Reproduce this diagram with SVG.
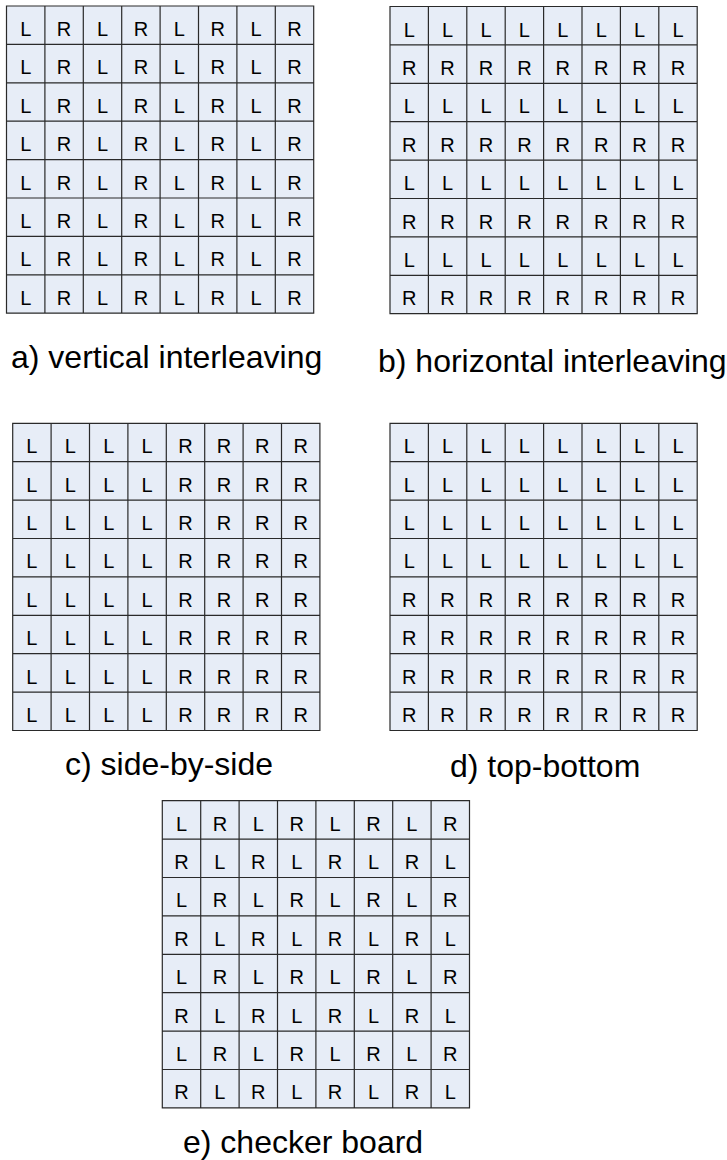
<svg xmlns="http://www.w3.org/2000/svg" width="727" height="1160" viewBox="0 0 727 1160">
<style>
.bg{fill:#E7EDF7}
.gl{fill:none;stroke:#2a2a2a;stroke-width:1.2}
.c{font-family:"Liberation Sans",Arial,sans-serif;font-size:20px;fill:#000;text-anchor:middle}
.cap{font-family:"Liberation Sans",Arial,sans-serif;font-size:32px;fill:#000}
</style>
<defs>
<g id="grid">
<rect class="bg" x="0" y="0" width="307.2" height="307.2"/>
<path class="gl" d="M0 0H307.2V307.2H0Z M38.4 0V307.2 M76.8 0V307.2 M115.2 0V307.2 M153.6 0V307.2 M192 0V307.2 M230.4 0V307.2 M268.8 0V307.2 M0 38.4H307.2 M0 76.8H307.2 M0 115.2H307.2 M0 153.6H307.2 M0 192H307.2 M0 230.4H307.2 M0 268.8H307.2"/>
</g>
</defs>

<g id="grid-a" transform="translate(6.5,6)">
<use href="#grid"/>
<text class="c" x="19.2" y="30">L</text><text class="c" x="57.6" y="30">R</text><text class="c" x="96" y="30">L</text><text class="c" x="134.4" y="30">R</text><text class="c" x="172.8" y="30">L</text><text class="c" x="211.2" y="30">R</text><text class="c" x="249.6" y="30">L</text><text class="c" x="288" y="30">R</text>
<text class="c" x="19.2" y="68.4">L</text><text class="c" x="57.6" y="68.4">R</text><text class="c" x="96" y="68.4">L</text><text class="c" x="134.4" y="68.4">R</text><text class="c" x="172.8" y="68.4">L</text><text class="c" x="211.2" y="68.4">R</text><text class="c" x="249.6" y="68.4">L</text><text class="c" x="288" y="68.4">R</text>
<text class="c" x="19.2" y="106.8">L</text><text class="c" x="57.6" y="106.8">R</text><text class="c" x="96" y="106.8">L</text><text class="c" x="134.4" y="106.8">R</text><text class="c" x="172.8" y="106.8">L</text><text class="c" x="211.2" y="106.8">R</text><text class="c" x="249.6" y="106.8">L</text><text class="c" x="288" y="106.8">R</text>
<text class="c" x="19.2" y="145.2">L</text><text class="c" x="57.6" y="145.2">R</text><text class="c" x="96" y="145.2">L</text><text class="c" x="134.4" y="145.2">R</text><text class="c" x="172.8" y="145.2">L</text><text class="c" x="211.2" y="145.2">R</text><text class="c" x="249.6" y="145.2">L</text><text class="c" x="288" y="145.2">R</text>
<text class="c" x="19.2" y="183.6">L</text><text class="c" x="57.6" y="183.6">R</text><text class="c" x="96" y="183.6">L</text><text class="c" x="134.4" y="183.6">R</text><text class="c" x="172.8" y="183.6">L</text><text class="c" x="211.2" y="183.6">R</text><text class="c" x="249.6" y="183.6">L</text><text class="c" x="288" y="183.6">R</text>
<text class="c" x="19.2" y="222">L</text><text class="c" x="57.6" y="222">R</text><text class="c" x="96" y="222">L</text><text class="c" x="134.4" y="222">R</text><text class="c" x="172.8" y="222">L</text><text class="c" x="211.2" y="222">R</text><text class="c" x="249.6" y="222">L</text><text class="c" x="288" y="220">R</text>
<text class="c" x="19.2" y="260.4">L</text><text class="c" x="57.6" y="260.4">R</text><text class="c" x="96" y="260.4">L</text><text class="c" x="134.4" y="260.4">R</text><text class="c" x="172.8" y="260.4">L</text><text class="c" x="211.2" y="260.4">R</text><text class="c" x="249.6" y="260.4">L</text><text class="c" x="288" y="260.4">R</text>
<text class="c" x="19.2" y="298.8">L</text><text class="c" x="57.6" y="298.8">R</text><text class="c" x="96" y="298.8">L</text><text class="c" x="134.4" y="298.8">R</text><text class="c" x="172.8" y="298.8">L</text><text class="c" x="211.2" y="298.8">R</text><text class="c" x="249.6" y="298.8">L</text><text class="c" x="288" y="298.8">R</text>
</g>

<g id="grid-b" transform="translate(390,6.5)">
<use href="#grid"/>
<text class="c" x="19.2" y="30">L</text><text class="c" x="57.6" y="30">L</text><text class="c" x="96" y="30">L</text><text class="c" x="134.4" y="30">L</text><text class="c" x="172.8" y="30">L</text><text class="c" x="211.2" y="30">L</text><text class="c" x="249.6" y="30">L</text><text class="c" x="288" y="30">L</text>
<text class="c" x="19.2" y="68.4">R</text><text class="c" x="57.6" y="68.4">R</text><text class="c" x="96" y="68.4">R</text><text class="c" x="134.4" y="68.4">R</text><text class="c" x="172.8" y="68.4">R</text><text class="c" x="211.2" y="68.4">R</text><text class="c" x="249.6" y="68.4">R</text><text class="c" x="288" y="68.4">R</text>
<text class="c" x="19.2" y="106.8">L</text><text class="c" x="57.6" y="106.8">L</text><text class="c" x="96" y="106.8">L</text><text class="c" x="134.4" y="106.8">L</text><text class="c" x="172.8" y="106.8">L</text><text class="c" x="211.2" y="106.8">L</text><text class="c" x="249.6" y="106.8">L</text><text class="c" x="288" y="106.8">L</text>
<text class="c" x="19.2" y="145.2">R</text><text class="c" x="57.6" y="145.2">R</text><text class="c" x="96" y="145.2">R</text><text class="c" x="134.4" y="145.2">R</text><text class="c" x="172.8" y="145.2">R</text><text class="c" x="211.2" y="145.2">R</text><text class="c" x="249.6" y="145.2">R</text><text class="c" x="288" y="145.2">R</text>
<text class="c" x="19.2" y="183.6">L</text><text class="c" x="57.6" y="183.6">L</text><text class="c" x="96" y="183.6">L</text><text class="c" x="134.4" y="183.6">L</text><text class="c" x="172.8" y="183.6">L</text><text class="c" x="211.2" y="183.6">L</text><text class="c" x="249.6" y="183.6">L</text><text class="c" x="288" y="183.6">L</text>
<text class="c" x="19.2" y="222">R</text><text class="c" x="57.6" y="222">R</text><text class="c" x="96" y="222">R</text><text class="c" x="134.4" y="222">R</text><text class="c" x="172.8" y="222">R</text><text class="c" x="211.2" y="222">R</text><text class="c" x="249.6" y="222">R</text><text class="c" x="288" y="222">R</text>
<text class="c" x="19.2" y="260.4">L</text><text class="c" x="57.6" y="260.4">L</text><text class="c" x="96" y="260.4">L</text><text class="c" x="134.4" y="260.4">L</text><text class="c" x="172.8" y="260.4">L</text><text class="c" x="211.2" y="260.4">L</text><text class="c" x="249.6" y="260.4">L</text><text class="c" x="288" y="260.4">L</text>
<text class="c" x="19.2" y="298.8">R</text><text class="c" x="57.6" y="298.8">R</text><text class="c" x="96" y="298.8">R</text><text class="c" x="134.4" y="298.8">R</text><text class="c" x="172.8" y="298.8">R</text><text class="c" x="211.2" y="298.8">R</text><text class="c" x="249.6" y="298.8">R</text><text class="c" x="288" y="298.8">R</text>
</g>

<g id="grid-c" transform="translate(12.7,423.3)">
<use href="#grid"/>
<text class="c" x="19.2" y="30">L</text><text class="c" x="57.6" y="30">L</text><text class="c" x="96" y="30">L</text><text class="c" x="134.4" y="30">L</text><text class="c" x="172.8" y="30">R</text><text class="c" x="211.2" y="30">R</text><text class="c" x="249.6" y="30">R</text><text class="c" x="288" y="30">R</text>
<text class="c" x="19.2" y="68.4">L</text><text class="c" x="57.6" y="68.4">L</text><text class="c" x="96" y="68.4">L</text><text class="c" x="134.4" y="68.4">L</text><text class="c" x="172.8" y="68.4">R</text><text class="c" x="211.2" y="68.4">R</text><text class="c" x="249.6" y="68.4">R</text><text class="c" x="288" y="68.4">R</text>
<text class="c" x="19.2" y="106.8">L</text><text class="c" x="57.6" y="106.8">L</text><text class="c" x="96" y="106.8">L</text><text class="c" x="134.4" y="106.8">L</text><text class="c" x="172.8" y="106.8">R</text><text class="c" x="211.2" y="106.8">R</text><text class="c" x="249.6" y="106.8">R</text><text class="c" x="288" y="106.8">R</text>
<text class="c" x="19.2" y="145.2">L</text><text class="c" x="57.6" y="145.2">L</text><text class="c" x="96" y="145.2">L</text><text class="c" x="134.4" y="145.2">L</text><text class="c" x="172.8" y="145.2">R</text><text class="c" x="211.2" y="145.2">R</text><text class="c" x="249.6" y="145.2">R</text><text class="c" x="288" y="145.2">R</text>
<text class="c" x="19.2" y="183.6">L</text><text class="c" x="57.6" y="183.6">L</text><text class="c" x="96" y="183.6">L</text><text class="c" x="134.4" y="183.6">L</text><text class="c" x="172.8" y="183.6">R</text><text class="c" x="211.2" y="183.6">R</text><text class="c" x="249.6" y="183.6">R</text><text class="c" x="288" y="183.6">R</text>
<text class="c" x="19.2" y="222">L</text><text class="c" x="57.6" y="222">L</text><text class="c" x="96" y="222">L</text><text class="c" x="134.4" y="222">L</text><text class="c" x="172.8" y="222">R</text><text class="c" x="211.2" y="222">R</text><text class="c" x="249.6" y="222">R</text><text class="c" x="288" y="222">R</text>
<text class="c" x="19.2" y="260.4">L</text><text class="c" x="57.6" y="260.4">L</text><text class="c" x="96" y="260.4">L</text><text class="c" x="134.4" y="260.4">L</text><text class="c" x="172.8" y="260.4">R</text><text class="c" x="211.2" y="260.4">R</text><text class="c" x="249.6" y="260.4">R</text><text class="c" x="288" y="260.4">R</text>
<text class="c" x="19.2" y="298.8">L</text><text class="c" x="57.6" y="298.8">L</text><text class="c" x="96" y="298.8">L</text><text class="c" x="134.4" y="298.8">L</text><text class="c" x="172.8" y="298.8">R</text><text class="c" x="211.2" y="298.8">R</text><text class="c" x="249.6" y="298.8">R</text><text class="c" x="288" y="298.8">R</text>
</g>

<g id="grid-d" transform="translate(390,423.3)">
<use href="#grid"/>
<text class="c" x="19.2" y="30">L</text><text class="c" x="57.6" y="30">L</text><text class="c" x="96" y="30">L</text><text class="c" x="134.4" y="30">L</text><text class="c" x="172.8" y="30">L</text><text class="c" x="211.2" y="30">L</text><text class="c" x="249.6" y="30">L</text><text class="c" x="288" y="30">L</text>
<text class="c" x="19.2" y="68.4">L</text><text class="c" x="57.6" y="68.4">L</text><text class="c" x="96" y="68.4">L</text><text class="c" x="134.4" y="68.4">L</text><text class="c" x="172.8" y="68.4">L</text><text class="c" x="211.2" y="68.4">L</text><text class="c" x="249.6" y="68.4">L</text><text class="c" x="288" y="68.4">L</text>
<text class="c" x="19.2" y="106.8">L</text><text class="c" x="57.6" y="106.8">L</text><text class="c" x="96" y="106.8">L</text><text class="c" x="134.4" y="106.8">L</text><text class="c" x="172.8" y="106.8">L</text><text class="c" x="211.2" y="106.8">L</text><text class="c" x="249.6" y="106.8">L</text><text class="c" x="288" y="106.8">L</text>
<text class="c" x="19.2" y="145.2">L</text><text class="c" x="57.6" y="145.2">L</text><text class="c" x="96" y="145.2">L</text><text class="c" x="134.4" y="145.2">L</text><text class="c" x="172.8" y="145.2">L</text><text class="c" x="211.2" y="145.2">L</text><text class="c" x="249.6" y="145.2">L</text><text class="c" x="288" y="145.2">L</text>
<text class="c" x="19.2" y="183.6">R</text><text class="c" x="57.6" y="183.6">R</text><text class="c" x="96" y="183.6">R</text><text class="c" x="134.4" y="183.6">R</text><text class="c" x="172.8" y="183.6">R</text><text class="c" x="211.2" y="183.6">R</text><text class="c" x="249.6" y="183.6">R</text><text class="c" x="288" y="183.6">R</text>
<text class="c" x="19.2" y="222">R</text><text class="c" x="57.6" y="222">R</text><text class="c" x="96" y="222">R</text><text class="c" x="134.4" y="222">R</text><text class="c" x="172.8" y="222">R</text><text class="c" x="211.2" y="222">R</text><text class="c" x="249.6" y="222">R</text><text class="c" x="288" y="222">R</text>
<text class="c" x="19.2" y="260.4">R</text><text class="c" x="57.6" y="260.4">R</text><text class="c" x="96" y="260.4">R</text><text class="c" x="134.4" y="260.4">R</text><text class="c" x="172.8" y="260.4">R</text><text class="c" x="211.2" y="260.4">R</text><text class="c" x="249.6" y="260.4">R</text><text class="c" x="288" y="260.4">R</text>
<text class="c" x="19.2" y="298.8">R</text><text class="c" x="57.6" y="298.8">R</text><text class="c" x="96" y="298.8">R</text><text class="c" x="134.4" y="298.8">R</text><text class="c" x="172.8" y="298.8">R</text><text class="c" x="211.2" y="298.8">R</text><text class="c" x="249.6" y="298.8">R</text><text class="c" x="288" y="298.8">R</text>
</g>

<g id="grid-e" transform="translate(162.3,800.7)">
<use href="#grid"/>
<text class="c" x="19.2" y="30">L</text><text class="c" x="57.6" y="30">R</text><text class="c" x="96" y="30">L</text><text class="c" x="134.4" y="30">R</text><text class="c" x="172.8" y="30">L</text><text class="c" x="211.2" y="30">R</text><text class="c" x="249.6" y="30">L</text><text class="c" x="288" y="30">R</text>
<text class="c" x="19.2" y="68.4">R</text><text class="c" x="57.6" y="68.4">L</text><text class="c" x="96" y="68.4">R</text><text class="c" x="134.4" y="68.4">L</text><text class="c" x="172.8" y="68.4">R</text><text class="c" x="211.2" y="68.4">L</text><text class="c" x="249.6" y="68.4">R</text><text class="c" x="288" y="68.4">L</text>
<text class="c" x="19.2" y="106.8">L</text><text class="c" x="57.6" y="106.8">R</text><text class="c" x="96" y="106.8">L</text><text class="c" x="134.4" y="106.8">R</text><text class="c" x="172.8" y="106.8">L</text><text class="c" x="211.2" y="106.8">R</text><text class="c" x="249.6" y="106.8">L</text><text class="c" x="288" y="106.8">R</text>
<text class="c" x="19.2" y="145.2">R</text><text class="c" x="57.6" y="145.2">L</text><text class="c" x="96" y="145.2">R</text><text class="c" x="134.4" y="145.2">L</text><text class="c" x="172.8" y="145.2">R</text><text class="c" x="211.2" y="145.2">L</text><text class="c" x="249.6" y="145.2">R</text><text class="c" x="288" y="145.2">L</text>
<text class="c" x="19.2" y="183.6">L</text><text class="c" x="57.6" y="183.6">R</text><text class="c" x="96" y="183.6">L</text><text class="c" x="134.4" y="183.6">R</text><text class="c" x="172.8" y="183.6">L</text><text class="c" x="211.2" y="183.6">R</text><text class="c" x="249.6" y="183.6">L</text><text class="c" x="288" y="183.6">R</text>
<text class="c" x="19.2" y="222">R</text><text class="c" x="57.6" y="222">L</text><text class="c" x="96" y="222">R</text><text class="c" x="134.4" y="222">L</text><text class="c" x="172.8" y="222">R</text><text class="c" x="211.2" y="222">L</text><text class="c" x="249.6" y="222">R</text><text class="c" x="288" y="222">L</text>
<text class="c" x="19.2" y="260.4">L</text><text class="c" x="57.6" y="260.4">R</text><text class="c" x="96" y="260.4">L</text><text class="c" x="134.4" y="260.4">R</text><text class="c" x="172.8" y="260.4">L</text><text class="c" x="211.2" y="260.4">R</text><text class="c" x="249.6" y="260.4">L</text><text class="c" x="288" y="260.4">R</text>
<text class="c" x="19.2" y="298.8">R</text><text class="c" x="57.6" y="298.8">L</text><text class="c" x="96" y="298.8">R</text><text class="c" x="134.4" y="298.8">L</text><text class="c" x="172.8" y="298.8">R</text><text class="c" x="211.2" y="298.8">L</text><text class="c" x="249.6" y="298.8">R</text><text class="c" x="288" y="298.8">L</text>
</g>

<g id="captions">
<text class="cap" x="11" y="368">a) vertical interleaving</text>
<text class="cap" x="378" y="371.5">b) horizontal interleaving</text>
<text class="cap" x="65" y="775">c) side-by-side</text>
<text class="cap" x="450" y="776.5">d) top-bottom</text>
<text class="cap" x="183" y="1153">e) checker board</text>
</g>
</svg>
